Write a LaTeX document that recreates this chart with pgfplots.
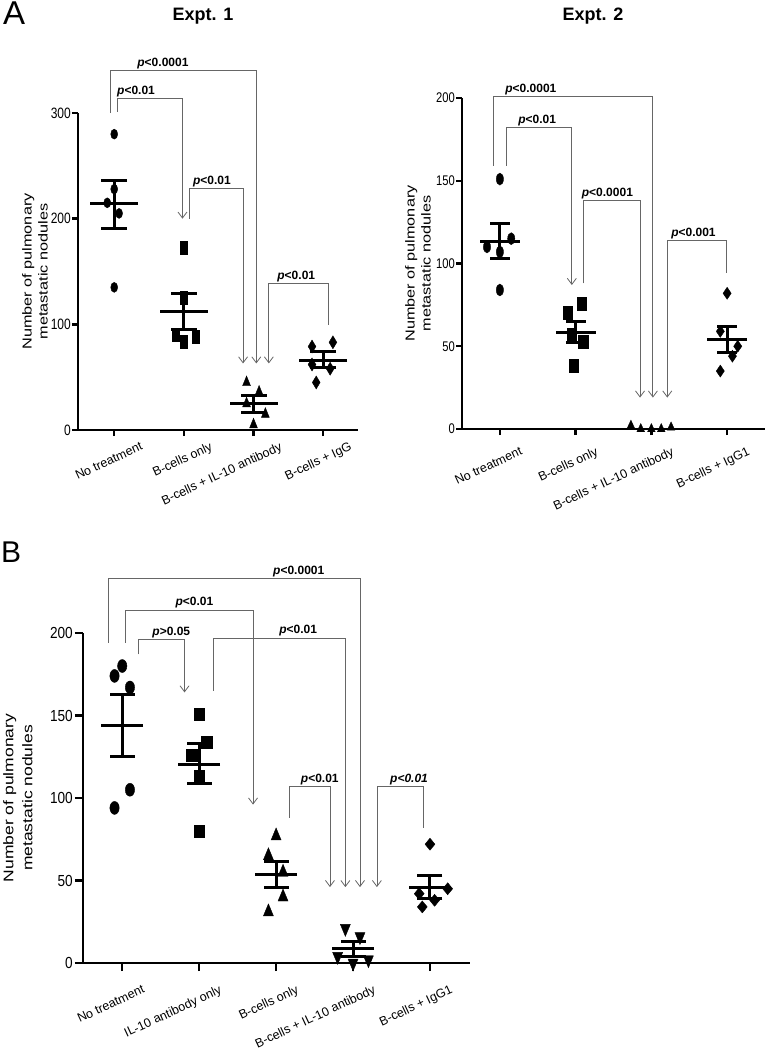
\documentclass[border=0pt]{standalone}
\usepackage{pgfplots}
\pgfplotsset{compat=1.18}
\usetikzlibrary{arrows.meta}
\usepackage{fontspec}
\setmainfont{Liberation Sans}
\newfontfamily\tickA[FakeStretch=0.8]{Liberation Sans}
\newfontfamily\tickB[FakeStretch=0.85]{Liberation Sans}
\newfontfamily\widefont[FakeStretch=1.25]{Liberation Sans}
\newcommand{\pl}[1]{\textbf{\textit{p}#1}}
\tikzset{
  br/.style={draw=black!60, line width=0.8pt},
  arr/.style={-{Straight Barb[length=6pt,width=9pt,line width=0.8pt]}},
  rarr/.style={{Straight Barb[length=6pt,width=9pt,line width=0.8pt]}-},
  plab/.style={anchor=base west, yshift=4pt, inner sep=0pt, font=\bfseries\fontsize{12}{12}\selectfont},
}
\pgfplotsset{
  myaxis/.style={
    scale only axis, anchor=south west,
    axis lines=left, axis line style={-, line width=2.6pt, black},
    clip=false, enlargelimits=false,
    tick align=outside, major tick length=6pt,
    every tick/.style={black, line width=2.4pt},
    /pgf/number format/assume math mode=true,
    unbounded coords=jump,
  },
  meanbar/.style={only marks, black, mark=-, line width=3pt},
}
\begin{document}
\begin{tikzpicture}
\path[use as bounding box] (0pt,0pt) rectangle (766pt,-1050pt);
\node[anchor=base west, inner sep=0pt, font=\fontsize{33}{33}\selectfont] at (3pt,-24pt) {A};
\node[anchor=base west, inner sep=0pt, font=\fontsize{30}{30}\selectfont] at (1pt,-562pt) {B};
\node[anchor=base, inner sep=0pt, font=\bfseries\fontsize{18}{18}\selectfont] at (203pt,-20pt) {Expt. 1};
\node[anchor=base, inner sep=0pt, font=\bfseries\fontsize{18}{18}\selectfont] at (593pt,-20pt) {Expt. 2};

% ---------------- Panel A, Expt. 1 ----------------
\begin{axis}[myaxis, at={(78pt,-430pt)}, width=280pt, height=317pt,
  xmin=-0.52, xmax=3.5, ymin=0, ymax=300,
  ytick={0,100,200,300}, xtick={0,1,2,3},
  xticklabels={No treatment, B-cells only, B-cells + IL-10 antibody, B-cells + IgG},
  xticklabel style={xshift=26pt, yshift=-4pt, rotate=25, anchor=north east, inner sep=1pt,
                    font=\fontsize{12.5}{12.5}\selectfont},
  yticklabel style={font=\tickA\fontsize{15}{15}\selectfont, inner sep=1pt},
  ylabel={Number of pulmonary\\metastatic nodules},
  ylabel style={at={(axis description cs:-0.154,0.5)}, anchor=center, align=center,
                font=\widefont\fontsize{13}{16}\selectfont},
  y axis line style={line width=2pt},
]
\addplot[only marks, black, mark=*, mark size=5pt, mark options={xscale=0.7}]
  coordinates {(0,280) (0,228) (-0.1,215) (0.07,205) (0,135)};
\addplot[only marks, black, mark=square*, mark size=6.5pt, mark options={xscale=0.55}]
  coordinates {(1,173) (1,125) (0.88,90) (1.17,88) (1,84)};
\addplot[only marks, black, mark=triangle*, mark size=6.5pt, mark options={xscale=0.7}]
  coordinates {(1.9,45) (2.08,36) (1.9,25) (2.17,15) (2.0,5)};
\addplot[only marks, black, mark=diamond*, mark size=6.5pt, mark options={xscale=0.8}]
  coordinates {(3.14,83) (2.84,79) (2.84,62) (3.1,58) (2.9,45)};
% mean and SEM
\addplot[meanbar, mark size=24pt] coordinates {(0,214) (1,112) (2,25) (3,66)};
\addplot[meanbar, mark size=13pt] coordinates {(0,236) (0,191) (1,129) (1,95) (2,33) (2,17) (3,74) (3,59)};
\addplot[black, line width=3pt] coordinates {(0,191) (0,236) (0,nan) (1,95) (1,129) (1,nan) (2,17) (2,33) (2,nan) (3,59) (3,74)};
% brackets
\draw[br, arr] (-0.06,300) -- (-0.06,340) -- (2.04,340) -- (2.04,63);
\node[plab] at (0.33,340) {\pl{<0.0001}};
\draw[br, arr] (0.04,301) -- (0.04,314) -- (0.98,314) -- (0.98,200);
\node[plab] at (0.04,314) {\pl{<0.01}};
\draw[br, arr] (1.08,200) -- (1.08,229) -- (1.85,229) -- (1.85,63);
\node[plab] at (1.13,229) {\pl{<0.01}};
\draw[br, rarr] (2.22,63) -- (2.22,139) -- (3.08,139) -- (3.08,99);
\node[plab] at (2.34,139) {\pl{<0.01}};
\end{axis}

% ---------------- Panel A, Expt. 2 ----------------
\begin{axis}[myaxis, at={(462pt,-429pt)}, width=303pt, height=331pt,
  xmin=-0.5, xmax=3.5, ymin=0, ymax=200,
  ytick={0,50,100,150,200}, xtick={0,1,2,3},
  xticklabels={No treatment, B-cells only, B-cells + IL-10 antibody, B-cells + IgG1},
  xticklabel style={xshift=20pt, yshift=-10pt, rotate=25, anchor=north east, inner sep=1pt,
                    font=\fontsize{12.5}{12.5}\selectfont},
  yticklabel style={font=\tickA\fontsize{14}{14}\selectfont, inner sep=1pt},
  ylabel={Number of pulmonary\\metastatic nodules},
  ylabel style={at={(axis description cs:-0.145,0.5)}, anchor=center, align=center,
                font=\widefont\fontsize{13}{16}\selectfont},
]
\addplot[only marks, black, mark=*, mark size=6pt, mark options={xscale=0.6}]
  coordinates {(0,151) (0.15,115) (-0.17,110) (0,107) (0,84)};
\addplot[only marks, black, mark=square*, mark size=6.5pt, mark options={xscale=0.7}]
  coordinates {(1.08,76) (0.9,70) (0.95,57) (1.1,53) (0.97,38)};
\addplot[only marks, black, mark=triangle*, mark size=5.5pt, mark options={xscale=0.8}]
  coordinates {(1.73,2) (1.86,0) (2.0,0) (2.13,0) (2.26,1)};
\addplot[only marks, black, mark=diamond*, mark size=6pt, mark options={xscale=0.9}]
  coordinates {(3.0,82) (2.91,59) (3.14,50) (3.07,44) (2.91,35)};
\addplot[meanbar, mark size=20pt] coordinates {(0,113) (1,58.5) (3,54)};
\addplot[meanbar, mark size=10pt] coordinates {(0,124) (0,103) (1,65) (1,52) (3,62) (3,46)};
\addplot[black, line width=3pt] coordinates {(0,103) (0,124) (0,nan) (1,52) (1,65) (1,nan) (3,46) (3,62)};
\draw[br, arr] (-0.08,159) -- (-0.08,201) -- (2.02,201) -- (2.02,19);
\node[plab] at (0.07,201) {\pl{<0.0001}};
\draw[br, arr] (0.09,159) -- (0.09,182) -- (0.95,182) -- (0.95,87);
\node[plab] at (0.24,182) {\pl{<0.01}};
\draw[br, arr] (1.10,88) -- (1.10,138) -- (1.85,138) -- (1.85,19);
\node[plab] at (1.08,138) {\pl{<0.0001}};
\draw[br, rarr] (2.21,19) -- (2.21,114) -- (2.99,114) -- (2.99,94);
\node[plab] at (2.26,114) {\pl{<0.001}};
\end{axis}

% ---------------- Panel B ----------------
\begin{axis}[myaxis, at={(83pt,-963pt)}, width=387pt, height=330pt,
  xmin=-0.51, xmax=4.52, ymin=0, ymax=200,
  ytick={0,50,100,150,200}, xtick={0,1,2,3,4},
  xticklabels={No treatment, IL-10 antibody only, B-cells only, B-cells + IL-10 antibody, B-cells + IgG1},
  xticklabel style={xshift=20pt, yshift=-12pt, rotate=25, anchor=north east, inner sep=1pt,
                    font=\fontsize{12.5}{12.5}\selectfont},
  major tick length=8pt,
  yticklabel style={font=\tickB\fontsize{16}{16}\selectfont, inner sep=2pt},
  ylabel={Number of pulmonary\\metastatic nodules},
  ylabel style={at={(axis description cs:-0.168,0.5)}, anchor=center, align=center,
                font=\widefont\fontsize{14}{19}\selectfont},
]
\addplot[only marks, black, mark=*, mark size=6.5pt, mark options={xscale=0.72}]
  coordinates {(0,180) (-0.1,174) (0.1,167) (0.1,105) (-0.1,94)};
\addplot[only marks, black, mark=square*, mark size=6pt, mark options={xscale=0.9}]
  coordinates {(1.0,151) (1.1,134) (0.9,126) (1.0,113) (1.0,80)};
\addplot[only marks, black, mark=triangle*, mark size=8pt, mark options={xscale=0.72}]
  coordinates {(2.0,77) (1.9,65) (2.09,55) (2.09,40) (1.9,31)};
\addplot[only marks, black, mark=triangle*, mark size=8pt, mark options={xscale=0.72, rotate=180}]
  coordinates {(2.9,21) (3.09,16) (2.8,4) (3.2,2) (3.0,0)};
\addplot[only marks, black, mark=diamond*, mark size=6pt, mark options={xscale=1.1}]
  coordinates {(4.0,72) (4.23,45) (3.86,42) (4.06,38) (3.9,34)};
\addplot[meanbar, mark size=21pt] coordinates {(0,144) (1,120.6) (2,53.5) (3,8.5) (4,46)};
\addplot[meanbar, mark size=12.5pt] coordinates {(0,163) (0,125) (1,133) (1,108.5) (2,61.5) (2,45.5) (3,13) (3,4) (4,53) (4,39)};
\addplot[black, line width=3pt] coordinates {(0,125) (0,163) (0,nan) (1,108.5) (1,133) (1,nan) (2,45.5) (2,61.5) (2,nan) (3,4) (3,13) (3,nan) (4,39) (4,53)};
\draw[br, arr] (-0.18,194) -- (-0.18,233) -- (3.09,233) -- (3.09,46);
\node[plab] at (1.96,233) {\pl{<0.0001}};
\draw[br, arr] (0.04,194) -- (0.04,214) -- (1.70,214) -- (1.70,96);
\node[plab] at (0.69,214) {\pl{<0.01}};
\draw[br, arr] (0.21,187) -- (0.21,196) -- (0.81,196) -- (0.81,164);
\node[plab] at (0.39,196) {\pl{>0.05}};
\draw[br, arr] (1.18,165) -- (1.18,197) -- (2.90,197) -- (2.90,46);
\node[plab] at (2.04,197) {\pl{<0.01}};
\draw[br, arr] (2.17,88) -- (2.17,107) -- (2.70,107) -- (2.70,46);
\node[plab] at (2.32,107) {\pl{<0.01}};
\draw[br, rarr] (3.31,46) -- (3.31,107) -- (3.91,107) -- (3.91,82);
\node[plab] at (3.48,107) {\textbf{\textit{p<0.01}}};
\end{axis}
\end{tikzpicture}
\end{document}
